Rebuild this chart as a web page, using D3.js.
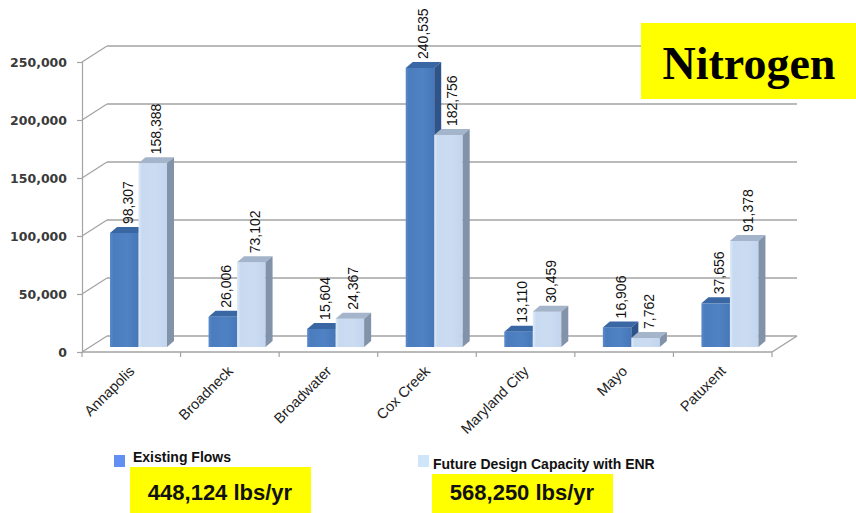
<!DOCTYPE html>
<html>
<head>
<meta charset="utf-8">
<script src="https://cdn.jsdelivr.net/npm/d3@7"></script>
<style>
  html, body { margin: 0; padding: 0; background: #fff; }
  svg { display: block; }
</style>
</head>
<body>
<svg id="chart" width="856" height="513"></svg>
<script>
// Nitrogen loads by treatment plant
const categories = ["Annapolis", "Broadneck", "Broadwater", "Cox Creek", "Maryland City", "Mayo", "Patuxent"];
const existingFlows = [98307, 26006, 15604, 240535, 13110, 16906, 37656];
const futureCapacity = [158388, 73102, 24367, 182756, 30459, 7762, 91378];
const yTicks = [0, 50000, 100000, 150000, 200000, 250000];
const seriesNames = ["Existing Flows", "Future Design Capacity with ENR"];
const totals = ["448,124 lbs/yr", "568,250 lbs/yr"];
const title = "Nitrogen";

const svg = d3.select("#chart");

// Front plane of the 3-D frame
const x = d3.scaleBand().domain(categories).range([82, 772]).paddingInner(0).paddingOuter(0);
const y = d3.scaleLinear().domain([0, 250000]).range([352, 62]);

// depth offsets: back wall, bar front plane and bar thickness
const back = { dx: 25, dy: -16 };
const barPlane = { dx: 8, dy: -5 };
const barDepth = { dx: 7, dy: -6 };
const barW = 28.5;
const gridColor = "#a3a3a3";

// back wall gridlines + diagonals to the front axis
const grid = svg.append("g");
yTicks.forEach(v => {
  grid.append("line")
    .attr("x1", 82 + back.dx).attr("x2", 772 + back.dx)
    .attr("y1", y(v) + back.dy).attr("y2", y(v) + back.dy)
    .attr("stroke", gridColor).attr("stroke-width", 1.6);
  grid.append("line")
    .attr("x1", 82).attr("y1", y(v))
    .attr("x2", 82 + back.dx).attr("y2", y(v) + back.dy)
    .attr("stroke", gridColor).attr("stroke-width", 1.2);
});

// front value axis
const yAxis = d3.axisLeft(y).tickValues(yTicks).tickSize(5).tickPadding(10)
  .tickFormat(d3.format(","));
const gy = svg.append("g").attr("transform", "translate(82,0)").call(yAxis);
gy.select(".domain").attr("stroke", gridColor).attr("stroke-width", 1.2);
gy.selectAll(".tick line").attr("stroke", gridColor).attr("stroke-width", 1.2);
gy.selectAll(".tick text")
  .attr("font-family", "DejaVu Sans, sans-serif")
  .attr("font-weight", "bold")
  .attr("font-size", 12.5)
  .attr("fill", "#3a3a3a");

// floor: front edge with category ticks and right-hand diagonal
svg.append("line")
  .attr("x1", 82).attr("x2", 772).attr("y1", y(0)).attr("y2", y(0))
  .attr("stroke", gridColor).attr("stroke-width", 1.4);
svg.append("line")
  .attr("x1", 772).attr("y1", y(0))
  .attr("x2", 772 + back.dx).attr("y2", y(0) + back.dy)
  .attr("stroke", gridColor).attr("stroke-width", 1.4);
const edges = categories.map(c => x(c)).concat([x.range()[1]]);
svg.append("g").selectAll("line").data(edges).join("line")
  .attr("x1", d => d).attr("x2", d => d)
  .attr("y1", y(0)).attr("y2", y(0) + 5)
  .attr("stroke", gridColor).attr("stroke-width", 1.2);

// gradients for bar fronts
const defs = svg.append("defs");
function hGrad(id, stops) {
  const g = defs.append("linearGradient").attr("id", id)
    .attr("x1", "0%").attr("x2", "100%").attr("y1", "0%").attr("y2", "0%");
  stops.forEach(s => g.append("stop").attr("offset", s[0]).attr("stop-color", s[1]));
}
hGrad("gDark", [["0%", "#5a8acb"], ["12%", "#4a7cbe"], ["60%", "#4f82c4"], ["100%", "#4677b8"]]);
hGrad("gLight", [["0%", "#dfeaf8"], ["12%", "#c8daf1"], ["60%", "#cbdcf2"], ["100%", "#c2d5ee"]]);

const styles = [
  { front: "url(#gDark)", top: "#3867a4", side: "#2e5489" },
  { front: "url(#gLight)", top: "#a4b4ca", side: "#8192a9" }
];

// bar value scale sits on the bar plane
const yb = v => y(v) + barPlane.dy;
const fmt = d3.format(",");

const bars = svg.append("g");
categories.forEach((c, i) => {
  [existingFlows[i], futureCapacity[i]].forEach((v, s) => {
    const x0 = x(c) + 20 + barPlane.dx + s * barW;
    const x1 = x0 + barW;
    const yT = yb(v), y0 = yb(0);
    const st = styles[s];
    const g = bars.append("g");
    // front face
    g.append("rect").attr("x", x0).attr("y", yT).attr("width", barW).attr("height", y0 - yT)
      .attr("fill", st.front);
    // top face
    g.append("path")
      .attr("d", `M${x0},${yT}L${x0 + barDepth.dx},${yT + barDepth.dy}L${x1 + barDepth.dx},${yT + barDepth.dy}L${x1},${yT}Z`)
      .attr("fill", st.top);
    // side face
    g.append("path")
      .attr("d", `M${x1},${yT}L${x1 + barDepth.dx},${yT + barDepth.dy}L${x1 + barDepth.dx},${y0 + barDepth.dy}L${x1},${y0}Z`)
      .attr("fill", st.side);
  });
});

// value labels, rotated above each bar
const labels = svg.append("g")
  .attr("font-family", "Liberation Sans, Arial, sans-serif")
  .attr("font-size", 14).attr("fill", "#111");
categories.forEach((c, i) => {
  [existingFlows[i], futureCapacity[i]].forEach((v, s) => {
    const cx = x(c) + 20 + barPlane.dx + s * barW + barW / 2 + barDepth.dx / 2 + 5;
    const ty = yb(v) + barDepth.dy - 3;
    labels.append("text")
      .attr("transform", `translate(${cx},${ty}) rotate(-90)`)
      .attr("text-anchor", "start")
      .text(fmt(v));
  });
});

// category labels
svg.append("g")
  .attr("font-family", "Liberation Sans, Arial, sans-serif")
  .attr("font-size", 14.5).attr("fill", "#222")
  .selectAll("text").data(categories).join("text")
  .attr("transform", d => `translate(${x(d) + x.bandwidth() / 2 + 4},${372}) rotate(-45)`)
  .attr("text-anchor", "end")
  .text(d => d);

// legend
const legend = [
  { sx: 114, sy: 455, color: "#638ef2", tx: 133, ty: 462 },
  { sx: 418, sy: 455, color: "#cfe6fa", tx: 433, ty: 469 }
];
legend.forEach((l, i) => {
  svg.append("rect").attr("x", l.sx).attr("y", l.sy).attr("width", 11).attr("height", 12)
    .attr("fill", l.color);
  svg.append("text").attr("x", l.tx).attr("y", l.ty)
    .attr("font-family", "Liberation Sans, Arial, sans-serif")
    .attr("font-weight", "bold").attr("font-size", 14).attr("fill", "#111")
    .text(seriesNames[i]);
});

// totals in highlighted boxes
const boxes = [{ x: 130, y: 467 }, { x: 432, y: 474 }];
boxes.forEach((b, i) => {
  svg.append("rect").attr("x", b.x).attr("y", b.y).attr("width", 181).attr("height", 513 - b.y)
    .attr("fill", "#ffff00");
  svg.append("text").attr("x", b.x + 90).attr("y", 500)
    .attr("text-anchor", "middle")
    .attr("font-family", "Liberation Sans, Arial, sans-serif")
    .attr("font-weight", "bold").attr("font-size", 22).attr("fill", "#111")
    .text(totals[i]);
});

// title box
svg.append("rect").attr("x", 641).attr("y", 23).attr("width", 215).attr("height", 76)
  .attr("fill", "#ffff00");
svg.append("text").attr("x", 749).attr("y", 79)
  .attr("text-anchor", "middle")
  .attr("font-family", "Liberation Serif, Times New Roman, serif")
  .attr("font-weight", "bold").attr("font-size", 46).attr("fill", "#000")
  .text(title);
</script>
</body>
</html>
